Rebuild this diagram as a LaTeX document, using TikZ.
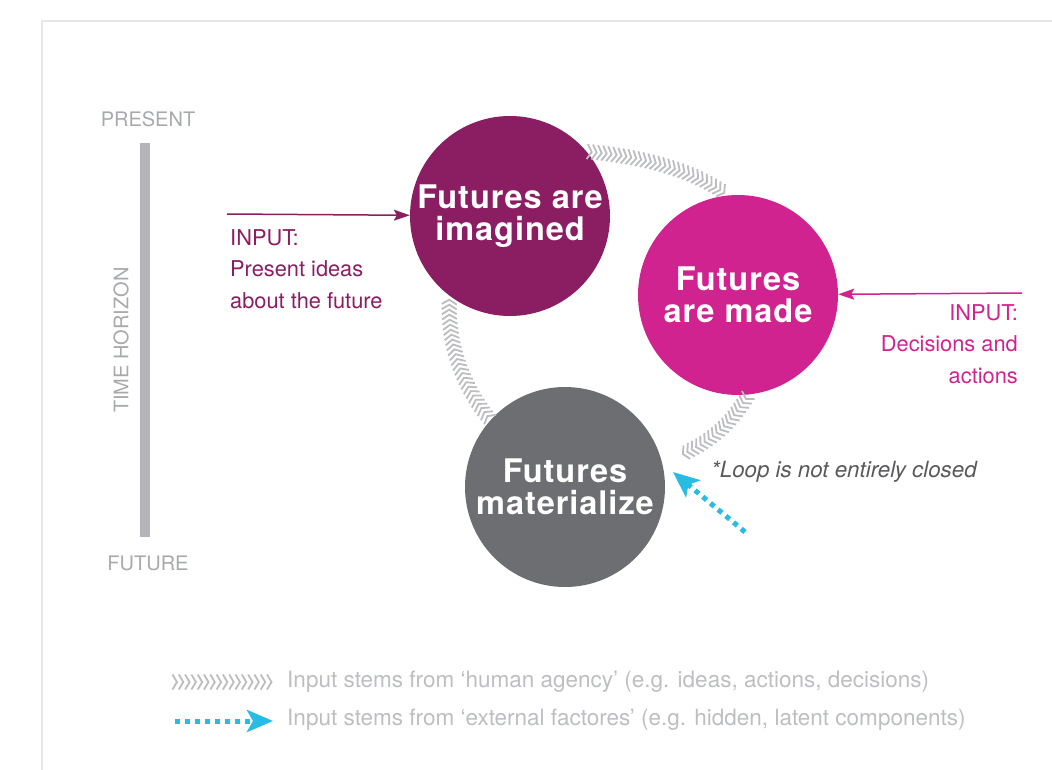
\documentclass[tikz,border=0pt]{standalone}
\usepackage{fontspec}
\setmainfont{TeX Gyre Heros}
\usepackage{tikz}
\usetikzlibrary{arrows.meta, decorations.markings, positioning}

\definecolor{imagPurple}{RGB}{139,30,98}
\definecolor{madePink}{RGB}{209,35,143}
\definecolor{matGray}{RGB}{109,110,113}
\definecolor{barGray}{RGB}{181,181,185}
\definecolor{lightText}{RGB}{167,169,172}
\definecolor{legendText}{RGB}{188,190,192}
\definecolor{chevGray}{RGB}{188,189,191}
\definecolor{extBlue}{RGB}{39,188,227}
\definecolor{noteGray}{RGB}{88,89,91}
\definecolor{frameGray}{RGB}{230,231,232}

\tikzset{
  stage/.style={circle, minimum size=200pt, inner sep=0pt, align=center,
    text=white, font=\fontsize{32.5}{32}\selectfont\bfseries\addfontfeatures{LetterSpace=3}},
  chevrons/.style={decoration={markings,
      mark=between positions 5pt and 1 step #1 with
      {\draw[chevGray, line width=1.8pt] (-4.5pt,-7.5pt) -- (0pt,0pt) -- (-4.5pt,7.5pt);}},
    postaction={decorate}},
  chevrons/.default=5pt,
  inArrow/.style={line width=1.5pt, -{Stealth[length=16pt, width=11pt, inset=3pt]}},
  inText/.style={inner sep=0pt, align=left, font=\fontsize{21.8}{31.5}\selectfont},
  lightLbl/.style={inner sep=0pt, text=lightText, font=\fontsize{20}{24}\selectfont},
  legendLbl/.style={inner sep=0pt, anchor=west, text=legendText, font=\fontsize{22.5}{24}\selectfont},
  extArrow/.style={extBlue, line width=5pt, dash pattern=on 5pt off 5pt,
    -{Stealth[length=26pt, width=22pt, inset=6pt]}}
}

\begin{document}
\begin{tikzpicture}[x=1pt,y=1pt,yscale=-1]
  \useasboundingbox (0,0) rectangle (1052,770);

  %Frame
  \draw[frameGray, line width=1.5pt] (42,770) -- (42,21) -- (1052,21);

  %Time horizon bar
  \fill[barGray] (140,143) rectangle (150,537);
  % Text Node
  \node[lightLbl] (present) at (148,119) {PRESENT};
  % Text Node
  \node[lightLbl] (future) at (148,563) {FUTURE};
  % Text Node
  \node[lightLbl, rotate=90] (horizon) at (121,340) {TIME HORIZON};

  %Shape: Circle
  \node[stage, fill=imagPurple] (imag) at (510,216) {Futures are\\imagined};
  %Shape: Circle
  \node[stage, fill=madePink] (made) at (738,295) {Futures\\are made};
  %Shape: Circle
  \node[stage, fill=matGray] (mat) at (565,487) {Futures\\materialize};

  %Loop of human agency
  \coordinate (loopEnd) at (681,455);
  \path[chevrons] (imag.40) .. controls (640,156) and (695,170) .. (made.96);
  \path[chevrons] (made.-84) .. controls (730,425) and (712,440) .. (loopEnd);
  \path[chevrons] (mat.138) .. controls (465,390) and (446,345) .. (imag.233);

  %Inputs
  \coordinate (inImag) at (227,214);
  \draw[inArrow, imagPurple] (inImag) -- (imag);
  \coordinate (inMade) at (1022,293);
  \draw[inArrow, madePink] (inMade) -- (made);
  % Text Node
  \node[inText, text=imagPurple, anchor=north west] (inImagTxt) at (230,229)
    {INPUT:\\Present ideas\\about the future};
  % Text Node
  \node[inText, text=madePink, anchor=north east, align=right] (inMadeTxt) at (1018,304)
    {INPUT:\\Decisions and\\actions};

  %External factor
  \coordinate (extTail) at (745,532);
  \coordinate (extTip) at (673,472);
  \draw[extArrow] (extTail) -- (extTip);
  % Text Node
  \node[inner sep=0pt, anchor=west, text=noteGray, font=\fontsize{22.3}{24}\selectfont\itshape]
    (loopNote) at (711,472) {*Loop is not entirely closed};

  %Legend
  \coordinate (lgHumA) at (172,682);
  \coordinate (lgHumB) at (272,682);
  \path[chevrons=6.3pt] (lgHumA) -- (lgHumB);
  \node[legendLbl] (lgHumTxt) at (287,682)
    {Input stems from ‘human agency’ (e.g. ideas, actions, decisions)};
  \coordinate (lgExtA) at (175,721);
  \coordinate (lgExtB) at (273,721);
  \draw[extArrow] (lgExtA) -- (lgExtB);
  \node[legendLbl] (lgExtTxt) at (287,720)
    {Input stems from ‘external factores’ (e.g. hidden, latent components)};
\end{tikzpicture}
\end{document}
